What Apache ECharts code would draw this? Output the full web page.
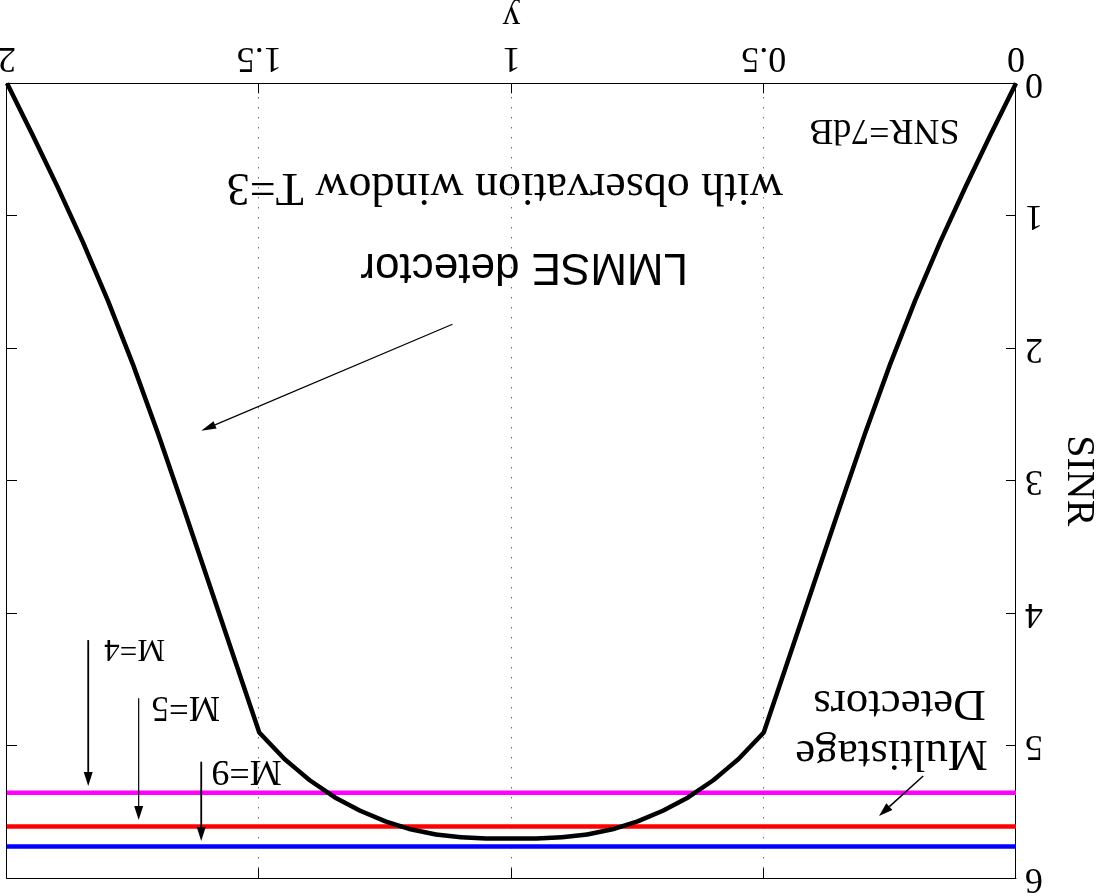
<!DOCTYPE html>
<html>
<head>
<meta charset="utf-8">
<title>SINR vs y</title>
<script src="https://cdn.jsdelivr.net/npm/echarts@6.0.0/dist/echarts.min.js"></script>
<style>
  html, body { margin: 0; padding: 0; background: #fff; overflow: hidden; }
  /* the figure is printed upside down */
  #chart { width: 1097px; height: 896px; transform: rotate(180deg); transform-origin: 50% 50%; }
</style>
</head>
<body>
<div id="chart"></div>
<script>
// ---- data ----
const xTicks = [0, 0.5, 1, 1.5, 2];
const xTickLabels = ['0', '0.5', '1', '1.5', '2'];
const sinrTicks = [0, 1, 2, 3, 4, 5, 6];
const sinrTickLabels = ['0', '1', '2', '3', '4', '5', '6'];

// LMMSE detector, observation window T=3
const lmmseX = [0, 0.05, 0.1, 0.15, 0.2, 0.25, 0.3, 0.35, 0.4, 0.45, 0.5,
  0.525, 0.55, 0.575, 0.6, 0.65, 0.7, 0.75, 0.8, 0.85, 0.9, 0.95, 1,
  1.05, 1.1, 1.15, 1.2, 1.25, 1.3, 1.35, 1.4, 1.425, 1.45, 1.475, 1.5,
  1.55, 1.6, 1.65, 1.7, 1.75, 1.8, 1.85, 1.9, 1.95, 2];
const lmmseSinr = [0, 0.385, 0.78, 1.195, 1.64, 2.125, 2.65, 3.205, 3.77, 4.335, 4.90,
  5.00, 5.10, 5.18, 5.26, 5.39, 5.49, 5.57, 5.63, 5.67, 5.69, 5.70, 5.70,
  5.70, 5.69, 5.67, 5.63, 5.57, 5.49, 5.39, 5.26, 5.18, 5.10, 5.00, 4.90,
  4.335, 3.77, 3.205, 2.65, 2.125, 1.64, 1.195, 0.78, 0.385, 0];

// multistage detectors (constant in y)
const stageNames = ['M=4', 'M=5', 'M=9'];
const stageSinr = [5.355, 5.61, 5.76];
const stageColors = ['#ff00ff', '#ff0000', '#0000ff'];

// ---- drawing ----
const SERIF = '"Liberation Serif", "Times New Roman", serif';
const SANS = '"Liberation Sans", Arial, Helvetica, sans-serif';

const chart = echarts.init(document.getElementById('chart'), null, { renderer: 'canvas' });

const axisLine = { show: true, onZero: false, lineStyle: { color: '#000', width: 1 } };
const tick = { show: true, inside: true, length: 10, lineStyle: { color: '#000', width: 1 } };

const series = [];
stageSinr.forEach((v, i) => {
  series.push({
    name: stageNames[i], type: 'line', showSymbol: false, z: 2,
    data: [[xTicks[0], v], [xTicks[xTicks.length - 1], v]],
    lineStyle: { color: stageColors[i], width: 4.5 }
  });
});
series.push({
  name: 'LMMSE', type: 'line', showSymbol: false, z: 3,
  data: lmmseX.map((x, i) => [x, lmmseSinr[i]]),
  lineStyle: { color: '#000', width: 4.5, join: 'round' }
});

chart.setOption({
  animation: false,
  backgroundColor: '#fff',
  grid: {
    left: 81, right: 7, top: 17.7, bottom: 83.3,
    containLabel: false, outerBoundsMode: 'none'
  },
  xAxis: [{
    type: 'value', position: 'bottom', min: 0, max: 2, interval: 0.5,
    name: 'y', nameLocation: 'middle', nameGap: 33,
    nameTextStyle: { fontFamily: SERIF, fontSize: 36, color: '#000' },
    axisLine, axisTick: tick,
    axisLabel: {
      margin: 8, fontFamily: SERIF, fontSize: 36, color: '#000',
      formatter: v => xTickLabels[xTicks.indexOf(v)] ?? ''
    },
    splitLine: { show: true, lineStyle: { color: '#222', width: 1, type: [1, 9] } }
  }, {
    type: 'value', position: 'top', min: 0, max: 2, interval: 0.5,
    axisLine, axisTick: tick, axisLabel: { show: false }, splitLine: { show: false }
  }],
  yAxis: [{
    type: 'value', position: 'left', min: 0, max: 6, interval: 1,
    name: 'SINR', nameLocation: 'middle', nameGap: 43, nameRotate: 90,
    nameTextStyle: { fontFamily: SERIF, fontSize: 40, color: '#000' },
    axisLine, axisTick: tick,
    axisLabel: {
      margin: 9, fontFamily: SERIF, fontSize: 36, color: '#000',
      formatter: v => sinrTickLabels[sinrTicks.indexOf(v)] ?? ''
    },
    splitLine: { show: false }
  }, {
    type: 'value', position: 'right', min: 0, max: 6, interval: 1,
    axisLine, axisTick: tick, axisLabel: { show: false }, splitLine: { show: false }
  }],
  series
});

// ---- annotations, anchored in data coordinates ----
// text: left edge and baseline at `at`
const notes = [
  { text: 'SNR=7dB', at: [0.112, 0.264], font: SERIF, size: 36 },
  { text: 'with observation window T=3', at: [0.462, 0.667], font: SERIF, size: 46 },
  { text: 'LMMSE detector', at: [0.650, 1.270], font: SANS, size: 44 },
  { text: 'Multistage', at: [0.056, 4.941], font: SERIF, size: 45 },
  { text: 'Detectors', at: [0.060, 4.564], font: SERIF, size: 45 },
  { text: stageNames[0], at: [1.687, 4.189], font: SERIF, size: 31 },
  { text: stageNames[1], at: [1.578, 4.617], font: SERIF, size: 35 },
  { text: stageNames[2], at: [1.4555, 5.102], font: SERIF, size: 36 }
];
// arrows: from tail to head
const arrows = [
  { from: [1.117, 1.819], to: [1.615, 2.622], width: 1.2, head: [15, 8] },
  { from: [0.184, 5.228], to: [0.2716, 5.530], width: 1.5, head: [14, 9] },
  { from: [1.839, 4.202], to: [1.839, 5.303], width: 1.8, head: [14, 9] },
  { from: [1.739, 4.642], to: [1.739, 5.560], width: 1.2, head: [14, 9] },
  { from: [1.615, 5.120], to: [1.615, 5.718], width: 1.8, head: [14, 9] }
];

function px(p) { return chart.convertToPixel({ xAxisIndex: 0, yAxisIndex: 0 }, p); }

const graphic = [];
notes.forEach(n => {
  const [x, y] = px(n.at);
  graphic.push({
    type: 'text', x: x, y: y - 0.32 * n.size, z: 10,
    style: {
      text: n.text, fill: '#000',
      font: n.size + 'px ' + n.font,
      align: 'left', verticalAlign: 'middle'
    }
  });
});
arrows.forEach(a => {
  const [x1, y1] = px(a.from);
  const [x2, y2] = px(a.to);
  const dx = x2 - x1, dy = y2 - y1;
  const len = Math.hypot(dx, dy);
  const ux = dx / len, uy = dy / len;
  const [hl, hw] = a.head;
  const bx = x2 - ux * hl, by = y2 - uy * hl;
  const nx = -uy * hw / 2, ny = ux * hw / 2;
  graphic.push({
    type: 'line', z: 10,
    shape: { x1: x1, y1: y1, x2: bx, y2: by },
    style: { stroke: '#000', lineWidth: a.width }
  });
  graphic.push({
    type: 'polygon', z: 10,
    shape: { points: [[x2, y2], [bx + nx, by + ny], [bx - nx, by - ny]] },
    style: { fill: '#000' }
  });
});
chart.setOption({ graphic });
</script>
</body>
</html>
